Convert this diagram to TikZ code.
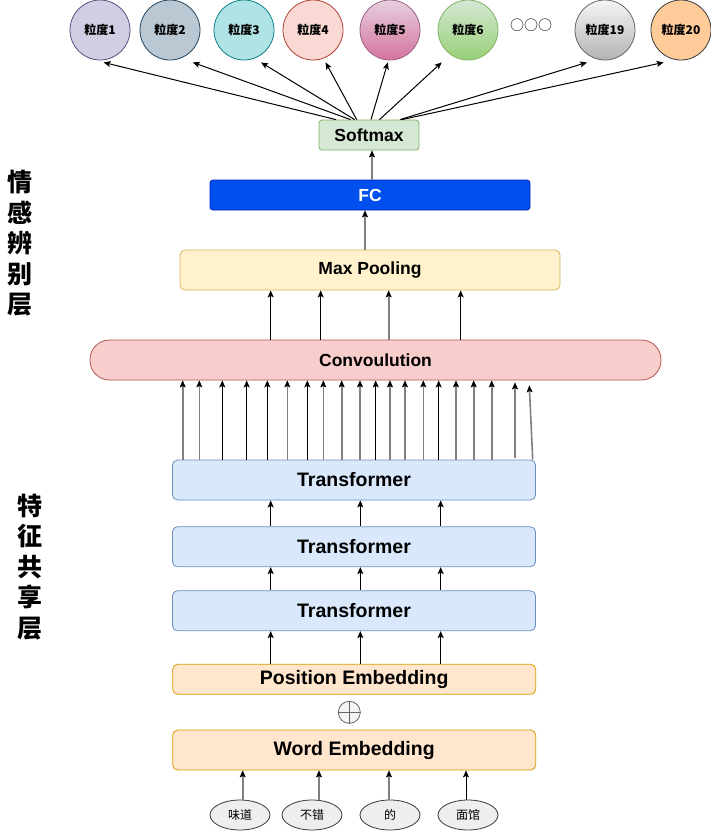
\documentclass[tikz,border=0pt]{standalone}
\usepackage{fontspec}
\setmainfont{Liberation Sans}
\newfontfamily\cjk{Noto Sans CJK SC}
\usetikzlibrary{arrows.meta,calc,shapes.geometric}
\definecolor{gAf}{HTML}{D0CEE2}\definecolor{gAd}{HTML}{56517E}
\definecolor{gBf}{HTML}{BAC8D3}\definecolor{gBd}{HTML}{23445D}
\definecolor{gCf}{HTML}{B0E3E6}\definecolor{gCd}{HTML}{0E8088}
\definecolor{gDf}{HTML}{FAD9D5}\definecolor{gDd}{HTML}{AE4132}
\definecolor{gEt}{HTML}{E6D0DE}\definecolor{gEb}{HTML}{D5739D}\definecolor{gEd}{HTML}{996185}
\definecolor{gFt}{HTML}{D5E8D4}\definecolor{gFb}{HTML}{97D077}\definecolor{gFd}{HTML}{82B366}
\definecolor{gGt}{HTML}{F5F5F5}\definecolor{gGb}{HTML}{B3B3B3}\definecolor{gGd}{HTML}{666666}
\definecolor{gHf}{HTML}{FFCC99}\definecolor{gHd}{HTML}{36393D}
\definecolor{smF}{HTML}{D5E8D4}\definecolor{smD}{HTML}{82B366}
\definecolor{fcF}{HTML}{0050EF}\definecolor{fcD}{HTML}{001DBC}
\definecolor{mpF}{HTML}{FFF2CC}\definecolor{mpD}{HTML}{D6B656}
\definecolor{cvF}{HTML}{F8CECC}\definecolor{cvD}{HTML}{B85450}
\definecolor{trF}{HTML}{DAE8FC}\definecolor{trD}{HTML}{6C8EBF}
\definecolor{emF}{HTML}{FFE6CC}\definecolor{emD}{HTML}{D79B00}
\definecolor{wdF}{HTML}{EEEEEE}\definecolor{wdD}{HTML}{36393D}
\definecolor{plF}{HTML}{F5F5F5}\definecolor{plD}{HTML}{666666}
\begin{document}
\begin{tikzpicture}[x=1pt,y=-1pt,
  bigbox/.style={draw, rounded corners=5pt, inner sep=0pt, line width=0.8pt,
    font=\bfseries\fontsize{19.5}{22}\selectfont},
  midbox/.style={draw, rounded corners=5pt, inner sep=0pt, line width=0.8pt,
    font=\bfseries\fontsize{17.5}{20}\selectfont},
  gran/.style={circle, draw, minimum size=60pt, inner sep=0pt, line width=0.8pt,
    font=\cjk\bfseries\fontsize{12}{14}\selectfont},
  wordnode/.style={ellipse, draw=wdD, fill=wdF, minimum width=60pt, minimum height=30pt,
    inner sep=0pt, line width=0.8pt, font=\cjk\fontsize{12}{14}\selectfont},
  side/.style={align=center, inner sep=0pt, font=\cjk\bfseries\fontsize{25}{30.5}\selectfont},
  arr/.style={line width=1pt, -{Stealth[length=7pt,width=6pt,inset=1.5pt]}},
  garr/.style={line width=1.6pt, draw=black!50,
    -{Stealth[length=7pt,width=6pt,inset=1.5pt,color=black,line width=0.5pt]}},
]
\useasboundingbox (0,0) rectangle (711,831);

% granularity circles
\node[gran, draw=gAd, fill=gAf] (g1) at (100,30) {粒度1};
\node[gran, draw=gBd, fill=gBf] (g2) at (170,30) {粒度2};
\node[gran, draw=gCd, fill=gCf] (g3) at (244,30) {粒度3};
\node[gran, draw=gDd, fill=gDf] (g4) at (313,30) {粒度4};
\node[gran, draw=gEd, top color=gEt, bottom color=gEb] (g5) at (390,30) {粒度5};
\node[gran, draw=gFd, top color=gFt, bottom color=gFb] (g6) at (468,30) {粒度6};
\node[inner sep=0pt, font=\cjk\fontsize{14}{16}\selectfont] (dots) at (531,25) {○○○};
\node[gran, draw=gGd, top color=gGt, bottom color=gGb] (g19) at (605,30) {粒度19};
\node[gran, draw=gHd, fill=gHf] (g20) at (681,30) {粒度20};

% upper stack
\node[midbox, draw=smD, fill=smF, rounded corners=3pt, minimum width=100pt, minimum height=30pt] (soft) at (369,135) {Softmax};
\node[midbox, draw=fcD, fill=fcF, text=white, rounded corners=3pt, minimum width=320pt, minimum height=30pt] (fc) at (370,195) {FC};
\node[midbox, draw=mpD, fill=mpF, minimum width=380pt, minimum height=40pt] (mp) at (370,270) {Max Pooling};
\node[midbox, draw=cvD, fill=cvF, rounded corners=19.5pt, minimum width=571pt, minimum height=40pt] (conv) at (375.5,360) {Convoulution};

% lower stack
\node[bigbox, draw=trD, fill=trF, minimum width=363pt, minimum height=40pt] (t1) at (354,480) {Transformer};
\node[bigbox, draw=trD, fill=trF, minimum width=363pt, minimum height=40pt] (t2) at (354,546.7) {Transformer};
\node[bigbox, draw=trD, fill=trF, minimum width=363pt, minimum height=40pt] (t3) at (354,610.7) {Transformer};
\node[bigbox, draw=emD, fill=emF, minimum width=363pt, minimum height=30pt] (pe) at (354.2,679.3) {Position Embedding};
\node[circle, draw=plD, fill=plF, minimum size=22pt, inner sep=0pt, line width=0.8pt] (plus) at (349.3,712.3) {};
\draw[draw=plD, line width=0.8pt] (plus.north) -- (plus.south) (plus.west) -- (plus.east);
\node[bigbox, draw=emD, fill=emF, minimum width=363pt, minimum height=40pt] (we) at (354.2,750) {Word Embedding};

% words
\node[wordnode] (w1) at (240,815) {味道};
\node[wordnode] (w2) at (312,815) {不错};
\node[wordnode] (w3) at (390,815) {的};
\node[wordnode] (w4) at (468,815) {面馆};

% side labels
\node[side] (lab1) at (20,243.3) {情\\感\\辨\\别\\层};
\node[side] (lab2) at (30,566.7) {特\\征\\共\\享\\层};

% arrows softmax -> circles
\draw[arr] (soft.north -| 336,0) -- ([shift={(3.6,2)}]g1.south);
\draw[arr] (soft.north -| 350.5,0) -- ([shift={(22.8,2)}]g2.south);
\draw[arr] (soft.north -| 354.6,0) -- ([shift={(17,2)}]g3.south);
\draw[arr] (soft.north -| 356.7,0) -- ([shift={(12.6,2)}]g4.south);
\draw[arr] (soft.north -| 371,0) -- ([shift={(-2.2,2)}]g5.south);
\draw[arr] (soft.north -| 379.5,0) -- ([shift={(-26.3,2)}]g6.south);
\draw[arr] (soft.north -| 400,0) -- ([shift={(-18,2)}]g19.south);
\draw[arr] (soft.north -| 402,0) -- ([shift={(-17.3,2)}]g20.south);

% fc -> softmax, mp -> fc
\draw[garr] (fc.north -| 372,0) -- (soft.south -| 372,0);
\draw[garr] (mp.north -| 365,0) -- (fc.south -| 365,0);

% conv -> mp
\foreach \x in {270.7,320.7,460.7} \draw[arr] (conv.north -| \x,0) -- (mp.south -| \x,0);
\draw[garr] (conv.north -| 388.7,0) -- (mp.south -| 388.7,0);

% t1 -> conv
\foreach \x in {222.3,246.7,267.3,307.3,375.7,438.7}
  \draw[arr] (t1.north -| \x,0) -- (conv.south -| \x,0);
\foreach \x in {182.7,199.3,287.3,323.3,341.7,360,390,405,423.3,456,473.7,491.7}
  \draw[garr] (t1.north -| \x,0) -- (conv.south -| \x,0);
\draw[garr] ($(t1.north -| 515,0)+(0,-2)$) -- ($(conv.south -| 515,0)+(0,2)$);
\draw[garr] (t1.north -| 532.7,0) -- ($(conv.south -| 529.3,0)+(0,5)$);

% transformer stack
\foreach \x in {270.7,360.3,440.7} {
  \draw[arr] (t2.north -| \x,0) -- (t1.south -| \x,0);
  \draw[arr] (t3.north -| \x,0) -- (t2.south -| \x,0);
  \draw[arr] (pe.north -| \x,0) -- (t3.south -| \x,0);
}

% words -> word embedding
\draw[garr] (w1.north -| 242.7,0) -- (we.south -| 242.7,0);
\draw[garr] (w2.north -| 319,0) -- (we.south -| 319,0);
\draw[garr] (w3.north -| 389,0) -- (we.south -| 389,0);
\draw[arr] (w4.north -| 466,0) -- (we.south -| 466,0);
\end{tikzpicture}
\end{document}
